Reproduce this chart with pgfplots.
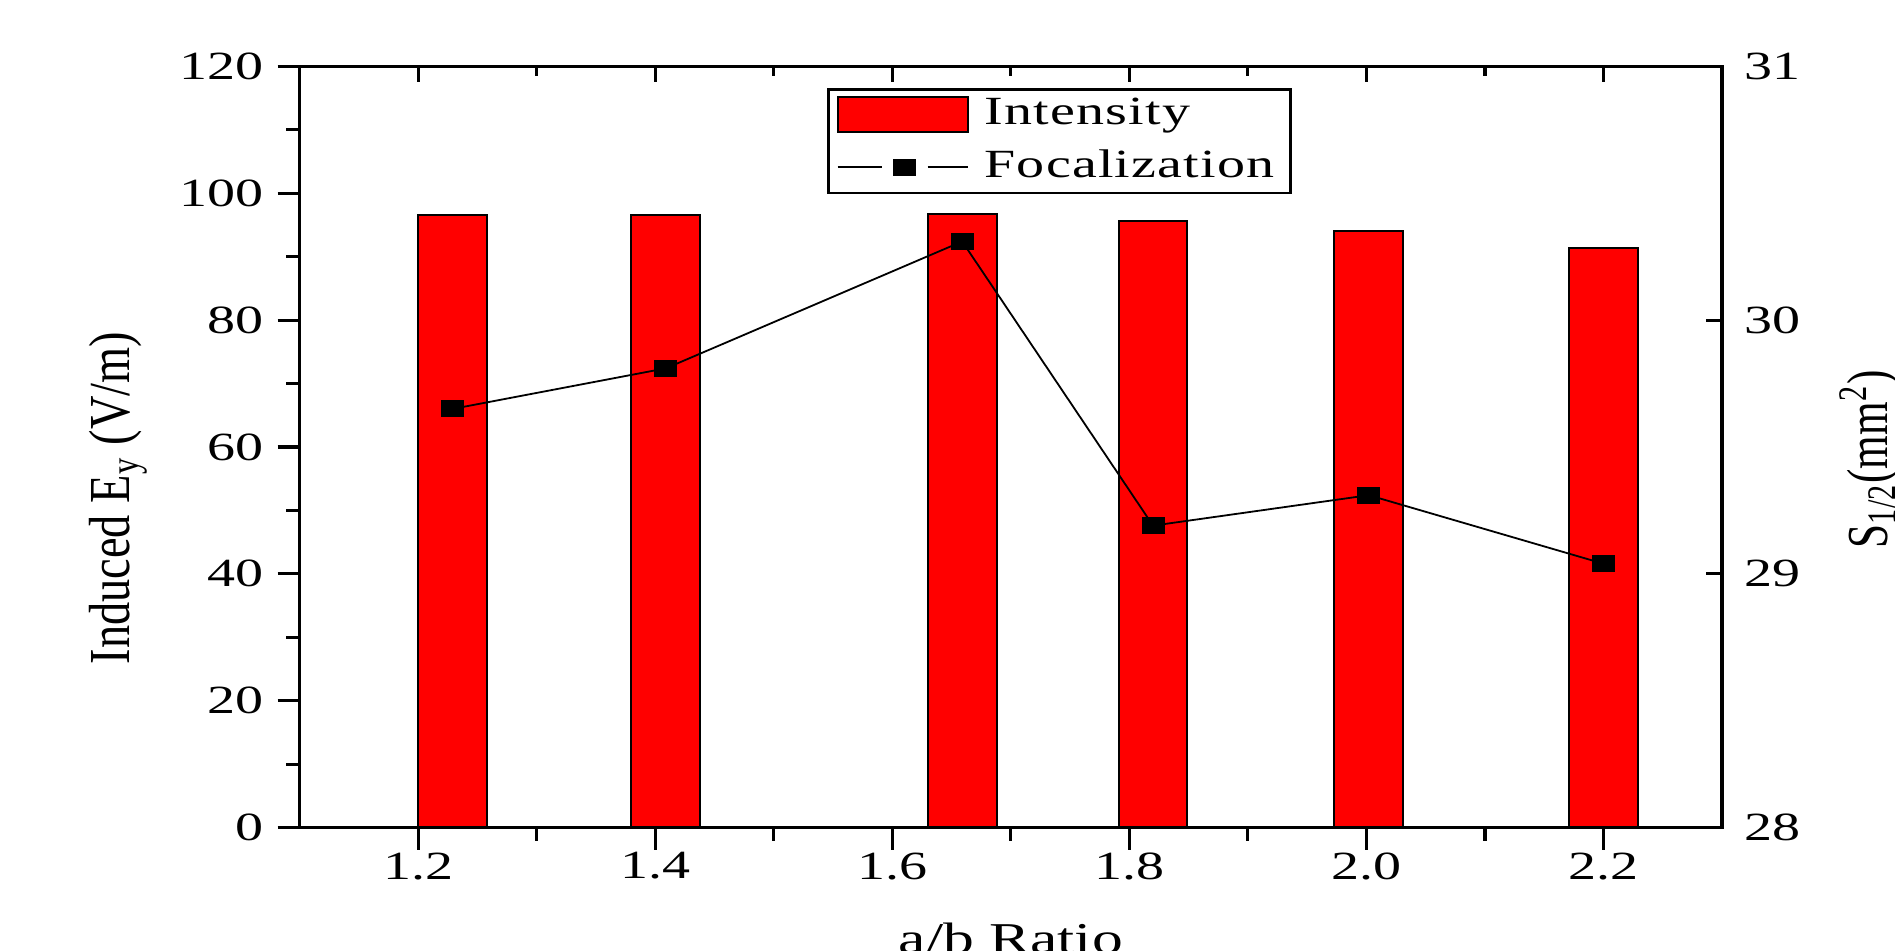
\documentclass[border=0pt]{standalone}
\usepackage{fontspec}
\setmainfont[FakeStretch=1.4]{Liberation Serif}
\newfontfamily\rotfont[FakeStretch=0.8]{Liberation Serif}
\newfontfamily\rotfontR[FakeStretch=0.745]{Liberation Serif}
\newfontfamily\legfont[FakeStretch=1.4,LetterSpace=3]{Liberation Serif}
\usepackage{pgfplots}
\pgfplotsset{compat=1.18}

\begin{document}
\begin{tikzpicture}
\begin{axis}[
  name=main,
  scale only axis,
  width=355.6pt, height=190.3pt,
  xmin=1.1, xmax=2.3, ymin=0, ymax=120,
  xtick={1.2,1.4,1.6,1.8,2.0,2.2},
  xticklabels={1.2,1.4,1.6,1.8,2.0,2.2},
  ytick={0,20,40,60,80,100,120},
  yticklabels={0,20,40,60,80,100,120},
  minor x tick num=1, minor y tick num=1,
  xtick pos=left, ytick pos=left,
  tick align=outside,
  major tick length=5.5pt, minor tick length=3.3pt,
  axis line style={line width=0.8pt},
  major tick style={line width=0.8pt, black},
  minor tick style={line width=0.8pt, black},
  ticklabel style={font=\fontsize{10}{12}\selectfont},
  xticklabel style={yshift=2.8pt},
  xlabel={a/b Ratio},
  xlabel style={at={(axis description cs:0.5,-0.1656)}, anchor=base, font=\fontsize{11}{13}\selectfont},
  ylabel={\rotfont\fontsize{14.5}{17}\selectfont Induced E\textsubscript{y} (V/m)},
  ylabel style={at={(axis description cs:-0.1195,0.433)}, anchor=base},
]
\addplot[ybar, bar width=0.058, bar shift=0pt, fill=red, draw=black, line width=0.5pt]
  coordinates {(1.229,96.5) (1.409,96.5) (1.659,96.8) (1.820,95.7) (2.002,94.1) (2.200,91.3)};
\end{axis}
\begin{axis}[
  scale only axis,
  width=355.6pt, height=190.3pt,
  xmin=1.1, xmax=2.3, ymin=28, ymax=31,
  xtick={1.2,1.4,1.6,1.8,2.0,2.2},
  xticklabels={},
  ytick={28,29,30,31},
  yticklabels={28,29,30,31},
  minor x tick num=1,
  xtick pos=right, ytick pos=right,
  yticklabel pos=right,
  tick align=inside,
  major tick length=4pt, minor tick length=2.5pt,
  axis line style={line width=0.8pt},
  major tick style={line width=0.8pt, black},
  minor tick style={line width=0.8pt, black},
  ticklabel style={font=\fontsize{10}{12}\selectfont},
  yticklabel style={xshift=2pt},
  ylabel={\rotfontR\fontsize{14.5}{17}\selectfont S\textsubscript{1/2}(mm\textsuperscript{2})},
  ylabel style={at={(axis description cs:1.116,0.484)}, anchor=base},
  legend style={at={(axis description cs:0.371,0.971)}, anchor=north west,
    draw=black, line width=0.6pt, font=\legfont\fontsize{10}{12}\selectfont,
    inner xsep=2pt, inner ysep=0.2pt, row sep=0.8pt},
  legend cell align=left,
]
\addlegendimage{legend image code/.code={\draw[fill=red,draw=black,line width=0.5pt] (0pt,-4.4pt) rectangle (32.5pt,4.4pt);}}
\addlegendentry{\hspace{2pt}Intensity}
\addplot[black, line width=0.45pt, mark=square*, mark size=1.9pt,
  mark options={xscale=1.4, fill=black, solid},
  legend image code/.code={\draw[black,line width=0.45pt] (0pt,0pt) -- (11pt,0pt) (22.5pt,0pt) -- (32.5pt,0pt); \fill[black] (14pt,-1.9pt) rectangle (19.5pt,1.9pt);}]
  coordinates {(1.229,29.65) (1.409,29.81) (1.659,30.31) (1.820,29.19) (2.002,29.31) (2.200,29.04)};
\addlegendentry{\hspace{2pt}Focalization}
\end{axis}
\pgfresetboundingbox
\useasboundingbox (-74.9pt,-30.8pt) rectangle (398.85pt,206.9pt);
\end{tikzpicture}
\end{document}
